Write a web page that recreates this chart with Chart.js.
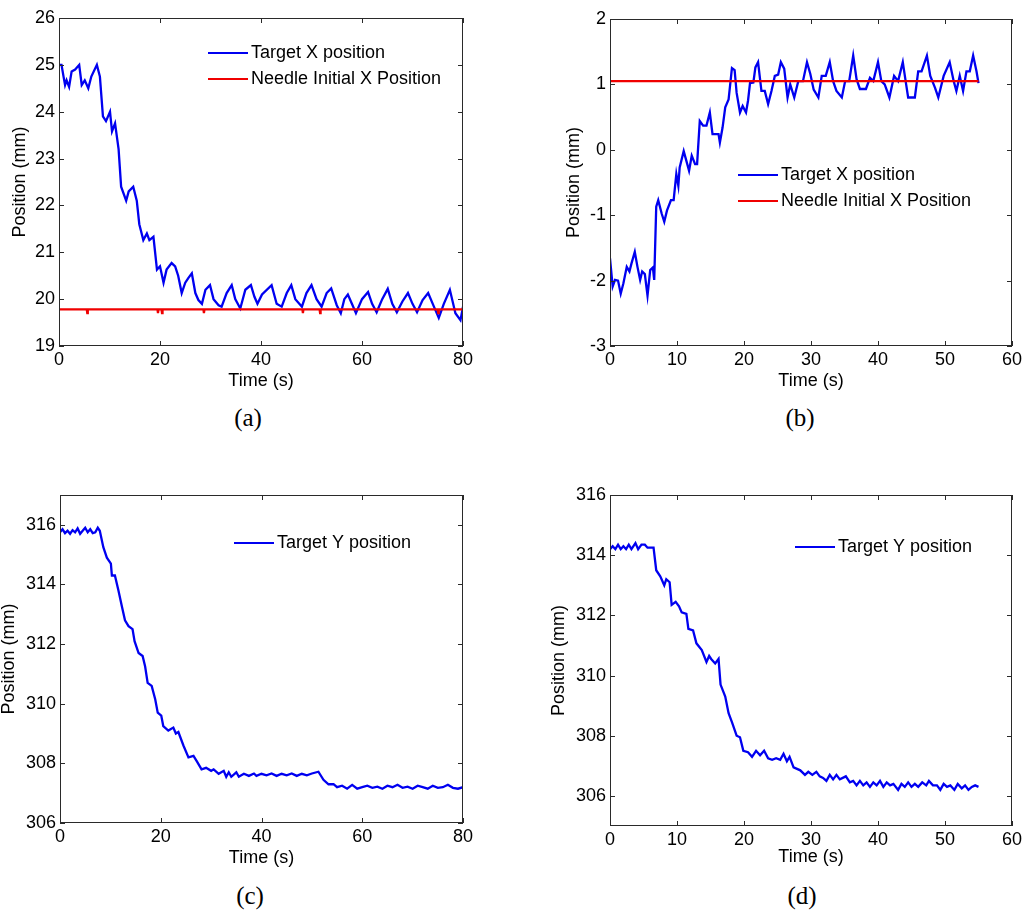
<!DOCTYPE html>
<html>
<head>
<meta charset="utf-8">
<script src="https://cdn.jsdelivr.net/npm/chart.js@4/dist/chart.umd.min.js"></script>
<style>
  body { margin: 0; background: #fff; }
  #wrap { position: relative; width: 1027px; height: 913px; overflow: hidden; }
  canvas { position: absolute; }
  .cap { position: absolute; width: 100px; text-align: center; font: 25px "Liberation Serif", serif; line-height: 28px; color: #000; }
</style>
</head>
<body>
<div id="wrap">
  <canvas id="chartA" width="480" height="395" style="left:0;top:0"></canvas>
  <canvas id="chartB" width="482" height="395" style="left:545px;top:0"></canvas>
  <canvas id="chartC" width="486" height="403" style="left:-6px;top:470px"></canvas>
  <canvas id="chartD" width="482" height="403" style="left:545px;top:470px"></canvas>
  <div class="cap" style="left:198px;top:404px">(a)</div>
  <div class="cap" style="left:750px;top:404px">(b)</div>
  <div class="cap" style="left:200px;top:882px">(c)</div>
  <div class="cap" style="left:752px;top:882px">(d)</div>
</div>
<script>
// (a) target X vs needle X, first trial
const timeA = [0, 0.5, 0.9, 1.2, 1.5, 2.0, 2.5, 3.2, 4.0, 4.5,
  5.1, 5.8, 6.4, 7.5, 8.1, 8.7, 9.3, 10.1, 10.5, 11.1,
  11.8, 12.3, 13.3, 13.8, 14.7, 15.4, 15.9, 16.7, 17.4, 17.9,
  18.7, 19.4, 20.0, 20.7, 21.3, 22.3, 23.0, 23.6, 24.3, 25.0,
  25.6, 26.3, 27.0, 27.6, 28.3, 29.0, 29.9, 30.6, 31.6, 32.2,
  33.2, 34.2, 34.9, 35.9, 36.9, 38.0, 38.7, 39.3, 40.2, 42.1,
  43.1, 44.1, 45.1, 46.0, 46.8, 48.1, 49.0, 50.0, 51.0, 52.0,
  53.0, 53.9, 55.0, 55.8, 56.5, 57.2, 58.0, 58.8, 60.0, 61.2,
  62.0, 62.9, 64.0, 65.1, 66.0, 66.9, 68.0, 69.1, 70.0, 70.9,
  72.0, 73.1, 74.2, 75.2, 76.2, 77.4, 78.5, 79.5, 80.0];
const targetXA = [25.0, 25.0, 24.75, 24.57, 24.67, 24.53, 24.86, 24.9, 25.0, 24.57,
  24.67, 24.5, 24.75, 25.0, 24.75, 23.9, 23.8, 24.0, 23.58, 23.75,
  23.2, 22.4, 22.1, 22.3, 22.4, 22.1, 21.6, 21.26, 21.4, 21.26,
  21.33, 20.63, 20.7, 20.35, 20.63, 20.77, 20.7, 20.5, 20.13, 20.35,
  20.45, 20.55, 20.13, 19.98, 19.9, 20.2, 20.3, 20.0, 19.87, 19.84,
  20.13, 20.3, 20.0, 19.8, 20.2, 20.3, 20.05, 19.9, 20.1, 20.3,
  19.9, 19.84, 20.13, 20.3, 20.0, 19.84, 20.13, 20.3, 20.0, 19.84,
  20.13, 20.23, 19.87, 19.7, 20.0, 20.1, 19.9, 19.7, 20.0, 20.15,
  19.9, 19.72, 20.0, 20.22, 19.9, 19.72, 19.95, 20.13, 19.9, 19.72,
  19.98, 20.13, 19.85, 19.6, 19.9, 20.2, 19.7, 19.55, 19.84];
const timeNeedleA = [0, 5.5, 5.6, 5.7, 19.5, 19.6, 19.7, 20.3, 20.4, 20.5, 28.6, 28.7, 28.8,
  48.2, 48.3, 48.4, 51.6, 51.7, 51.8, 75.0, 75.1, 75.2, 80];
const needleXA = [19.78, 19.78, 19.7, 19.78, 19.78, 19.7, 19.78, 19.78, 19.7, 19.78, 19.78, 19.7, 19.78,
  19.78, 19.7, 19.78, 19.78, 19.7, 19.78, 19.78, 19.7, 19.78, 19.78];

// (b) target X vs needle X, second trial
const timeB = [0, 0.1, 0.4, 0.75, 1.2, 1.6, 2.0, 2.5, 2.9, 3.2,
  3.7, 4.1, 4.5, 4.8, 5.2, 5.6, 6.0, 6.4, 6.6, 6.9,
  7.2, 7.7, 8.1, 8.5, 9.1, 9.5, 9.9, 10.2, 10.4, 11.0,
  11.4, 11.8, 12.2, 12.7, 13.0, 13.4, 13.9, 14.4, 14.9, 15.3,
  16.2, 16.4, 16.8, 17.2, 17.7, 18.2, 18.6, 18.9, 19.4, 19.8,
  20.3, 20.6, 20.9, 21.4, 21.7, 22.1, 22.6, 23.1, 23.6, 24.1,
  24.6, 25.1, 25.5, 26.0, 26.5, 26.9, 27.5, 28.1, 28.8, 29.4,
  29.9, 30.4, 31.1, 31.6, 32.2, 32.8, 33.3, 33.8, 34.6, 35.1,
  35.7, 36.3, 36.8, 37.3, 38.2, 38.8, 39.3, 40.0, 40.5, 41.0,
  41.7, 42.4, 43.0, 43.7, 44.2, 44.5, 45.5, 46.0, 46.5, 47.3,
  47.8, 48.5, 49.0, 49.8, 50.7, 51.3, 51.7, 52.2, 52.7, 53.2,
  53.7, 54.2, 54.7, 55.0];
const targetXB = [-1.66, -1.66, -2.09, -1.99, -2.0, -2.2, -2.04, -1.79, -1.86, -1.74,
  -1.56, -1.79, -1.99, -1.86, -1.9, -2.23, -1.84, -1.8, -1.99, -0.87,
  -0.77, -0.97, -1.1, -0.93, -0.77, -0.77, -0.37, -0.55, -0.27, -0.02,
  -0.17, -0.32, -0.09, -0.22, -0.22, 0.44, 0.37, 0.37, 0.57, 0.24,
  0.24, 0.11, 0.34, 0.65, 0.77, 1.25, 1.22, 0.87, 0.57, 0.67,
  0.57, 0.75, 1.02, 1.03, 1.26, 1.34, 0.9, 0.9, 0.7, 0.9,
  1.13, 1.15, 1.34, 1.24, 0.8, 1.0, 0.8, 1.05, 1.05, 1.34,
  1.16, 0.92, 0.8, 1.13, 1.13, 1.34, 1.05, 0.9, 0.8, 1.05,
  1.05, 1.44, 1.08, 0.93, 0.93, 1.1, 1.05, 1.34, 1.05, 1.0,
  0.8, 1.13, 1.05, 1.34, 1.0, 0.8, 0.8, 1.2, 1.2, 1.44,
  1.13, 0.95, 0.8, 1.13, 1.34, 1.05, 0.9, 1.13, 0.9, 1.2,
  1.2, 1.44, 1.2, 1.02];
const timeNeedleB = [0, 55];
const needleXB = [1.05, 1.05];

// (c) target Y, first trial
const timeC = [0, 0.5, 1, 1.5, 2, 2.5, 3, 3.5, 4, 4.5,
  5, 5.5, 6, 6.5, 7, 7.5, 7.9, 8.6, 9.3, 10.1,
  10.3, 10.9, 11.6, 12.3, 12.9, 13.6, 14.4, 14.8, 15.6, 16.4,
  16.9, 17.4, 18.2, 18.9, 19.4, 20.1, 20.5, 21.5, 22.5, 23,
  23.5, 24.5, 25.5, 26.5, 27.2, 28.1, 29, 30, 30.5, 31.5,
  32.5, 33, 33.5, 34, 35, 35.5, 36.5, 37.5, 38.5, 39,
  40, 41, 42, 43, 44, 45, 46, 47, 48, 49,
  50, 51.3, 52.3, 53.3, 54.3, 55, 56, 57, 58, 59,
  60, 61, 62, 63, 64, 65, 66, 67, 68, 69,
  70, 71, 72, 73, 74, 75, 76, 77, 78, 79,
  80];
const targetYC = [315.75, 315.85, 315.72, 315.8, 315.7, 315.82, 315.75, 315.88, 315.7, 315.8,
  315.9, 315.75, 315.85, 315.72, 315.75, 315.9, 315.8, 315.25, 314.9, 314.7,
  314.3, 314.3, 313.8, 313.25, 312.8, 312.6, 312.5, 312.1, 311.7, 311.6,
  311.25, 310.7, 310.6, 310.15, 309.7, 309.6, 309.25, 309.1, 309.2, 309.0,
  309.05, 308.6, 308.2, 308.25, 308.06, 307.8, 307.85, 307.75, 307.8, 307.65,
  307.75, 307.55, 307.7, 307.55, 307.7, 307.55, 307.65, 307.58, 307.66, 307.58,
  307.65, 307.6, 307.66, 307.58, 307.65, 307.6, 307.66, 307.58, 307.65, 307.6,
  307.66, 307.72, 307.45, 307.3, 307.3, 307.2, 307.25, 307.15, 307.28, 307.15,
  307.2, 307.25, 307.18, 307.22, 307.15, 307.25, 307.2, 307.28, 307.18, 307.22,
  307.15, 307.25, 307.2, 307.15, 307.25, 307.18, 307.2, 307.28, 307.18, 307.15,
  307.2];

// (d) target Y, second trial
const timeD = [0, 0.4, 0.8, 1.2, 1.6, 2.0, 2.4, 2.8, 3.2, 3.8,
  4.2, 4.7, 5.2, 5.6, 6.5, 6.9, 7.5, 8.1, 8.4, 8.9,
  9.2, 9.8, 10.3, 10.7, 11.4, 11.7, 12.4, 12.9, 13.7, 14.4,
  14.8, 15.1, 15.7, 16.2, 16.5, 17.2, 17.7, 18.2, 18.9, 19.4,
  19.9, 20.6, 21.2, 21.8, 22.4, 23.0, 23.6, 24.2, 24.8, 25.4,
  25.9, 26.4, 26.8, 27.4, 28.4, 29.1, 29.6, 30.2, 30.8, 31.3,
  31.8, 32.3, 32.8, 33.3, 33.8, 34.3, 35.2, 35.8, 36.3, 36.8,
  37.3, 37.8, 38.3, 38.8, 39.3, 39.8, 40.3, 40.8, 41.3, 41.8,
  42.3, 43.0, 43.5, 44.0, 44.5, 45.0, 45.5, 46.0, 46.6, 47.2,
  47.6, 48.2, 48.8, 49.3, 49.8, 50.3, 50.8, 51.4, 51.9, 52.5,
  53.0, 53.5, 54.0, 54.5, 55.0];
const targetYD = [314.2, 314.3, 314.2, 314.35, 314.2, 314.3, 314.2, 314.35, 314.2, 314.4,
  314.2, 314.35, 314.35, 314.25, 314.25, 313.5, 313.3, 313.0, 313.2, 313.1,
  312.35, 312.45, 312.3, 312.1, 312.05, 311.55, 311.5, 311.07, 310.85, 310.45,
  310.65, 310.55, 310.4, 310.55, 309.7, 309.3, 308.75, 308.45, 308.0, 307.95,
  307.5, 307.45, 307.3, 307.5, 307.35, 307.5, 307.25, 307.2, 307.25, 307.2,
  307.4, 307.15, 307.3, 306.95, 306.85, 306.7, 306.8, 306.7, 306.8, 306.65,
  306.6, 306.5, 306.7, 306.55, 306.7, 306.55, 306.65, 306.45, 306.5, 306.35,
  306.5, 306.35, 306.45, 306.3, 306.45, 306.35, 306.5, 306.3, 306.45, 306.35,
  306.4, 306.2, 306.4, 306.3, 306.45, 306.3, 306.4, 306.3, 306.45, 306.35,
  306.5, 306.35, 306.35, 306.2, 306.4, 306.3, 306.35, 306.2, 306.4, 306.25,
  306.35, 306.2, 306.3, 306.35, 306.3];

// tick labels
const xTicks80 = [0, 20, 40, 60, 80];
const xTicks60 = [0, 10, 20, 30, 40, 50, 60];
const yTicksA = [19, 20, 21, 22, 23, 24, 25, 26];
const yTicksB = [-3, -2, -1, 0, 1, 2];
const yTicksCD = [306, 308, 310, 312, 314, 316];

Chart.defaults.font.family = '"Liberation Sans", Arial, sans-serif';
Chart.defaults.font.size = 18;
Chart.defaults.color = '#000';

const toXY = (ts, vs) => ts.map((t, i) => ({ x: t, y: vs[i] }));

// matlab style box with inward ticks on all four sides
const boxAxes = {
  id: 'boxAxes',
  afterDatasetsDraw(chart) {
    const { ctx, chartArea: a, scales: { x, y } } = chart;
    ctx.save();
    ctx.strokeStyle = '#2a2a2a';
    ctx.lineWidth = 1;
    ctx.strokeRect(a.left + 0.5, a.top + 0.5, a.right - a.left - 1, a.bottom - a.top - 1);
    ctx.beginPath();
    x.ticks.forEach(t => {
      const px = Math.round(x.getPixelForValue(t.value)) + 0.5;
      ctx.moveTo(px, a.bottom); ctx.lineTo(px, a.bottom - 5);
      ctx.moveTo(px, a.top); ctx.lineTo(px, a.top + 5);
    });
    y.ticks.forEach(t => {
      const py = Math.round(y.getPixelForValue(t.value)) + 0.5;
      ctx.moveTo(a.left, py); ctx.lineTo(a.left + 5, py);
      ctx.moveTo(a.right, py); ctx.lineTo(a.right - 5, py);
    });
    ctx.stroke();
    ctx.restore();
  }
};

// legend drawn inside the axes, no frame
const innerLegend = {
  id: 'innerLegend',
  afterDraw(chart, args, opts) {
    const { ctx, chartArea: a } = chart;
    ctx.save();
    ctx.font = '18px "Liberation Sans", Arial, sans-serif';
    ctx.textBaseline = 'middle';
    chart.data.datasets.forEach((ds, i) => {
      const yy = a.top + opts.y + i * 26;
      const x0 = a.left + opts.x;
      ctx.strokeStyle = ds.borderColor;
      ctx.lineWidth = 2;
      ctx.beginPath();
      ctx.moveTo(x0, yy); ctx.lineTo(x0 + 40, yy);
      ctx.stroke();
      ctx.fillStyle = '#000';
      ctx.fillText(ds.label, x0 + 43, yy);
    });
    ctx.restore();
  }
};

function makeChart(id, datasets, g) {
  return new Chart(document.getElementById(id), {
    type: 'line',
    data: { datasets },
    plugins: [boxAxes, innerLegend],
    options: {
      responsive: false,
      animation: false,
      layout: { padding: { top: g.top, right: g.right, bottom: 0, left: 0 } },
      plugins: {
        legend: { display: false },
        tooltip: { enabled: false },
        innerLegend: { x: g.legX, y: g.legY }
      },
      elements: { point: { radius: 0 }, line: { tension: 0, borderWidth: 2.3 } },
      scales: {
        x: {
          type: 'linear', min: g.xMin, max: g.xMax,
          afterBuildTicks: s => { s.ticks = g.xTicks.map(v => ({ value: v })); },
          afterFit: s => { s.height = g.xH; },
          grid: { display: false, drawTicks: false },
          border: { display: false },
          ticks: { padding: 3, autoSkip: false, maxRotation: 0 },
          title: { display: true, text: 'Time (s)', padding: { top: 0, bottom: g.xTitlePad } }
        },
        y: {
          type: 'linear', min: g.yMin, max: g.yMax,
          afterBuildTicks: s => { s.ticks = g.yTicks.map(v => ({ value: v })); },
          afterFit: s => { s.width = g.yW; },
          grid: { display: false, drawTicks: false },
          border: { display: false },
          ticks: { padding: 4, autoSkip: false },
          title: { display: true, text: 'Position (mm)', padding: { top: g.yTitlePad, bottom: 0 } }
        }
      }
    }
  });
}

const blue = '#0000f0';
const red = '#f00000';

makeChart('chartA', [
  { label: 'Target X position', data: toXY(timeA, targetXA), borderColor: blue, order: 2 },
  { label: 'Needle Initial X Position', data: toXY(timeNeedleA, needleXA), borderColor: red, order: 1 }
], { top: 18, right: 17, xH: 49, yW: 59, xMin: 0, xMax: 80, yMin: 19, yMax: 26,
     xTicks: xTicks80, yTicks: yTicksA, xTitlePad: 3, yTitlePad: 9, legX: 149, legY: 35 });

makeChart('chartB', [
  { label: 'Target X position', data: toXY(timeB, targetXB), borderColor: blue, order: 2 },
  { label: 'Needle Initial X Position', data: toXY(timeNeedleB, needleXB), borderColor: red, order: 1 }
], { top: 19, right: 15, xH: 49, yW: 65, xMin: 0, xMax: 60, yMin: -3, yMax: 2,
     xTicks: xTicks60, yTicks: yTicksB, xTitlePad: 3, yTitlePad: 18, legX: 128, legY: 156 });

makeChart('chartC', [
  { label: 'Target Y position', data: toXY(timeC, targetYC), borderColor: blue }
], { top: 25, right: 17, xH: 50, yW: 66, xMin: 0, xMax: 80, yMin: 306, yMax: 317,
     xTicks: xTicks80, yTicks: yTicksCD, xTitlePad: 4, yTitlePad: 4, legX: 174, legY: 48 });

makeChart('chartD', [
  { label: 'Target Y position', data: toXY(timeD, targetYD), borderColor: blue }
], { top: 25, right: 15, xH: 47, yW: 65, xMin: 0, xMax: 60, yMin: 305, yMax: 316,
     xTicks: xTicks60, yTicks: yTicksCD, xTitlePad: 5, yTitlePad: 3, legX: 185, legY: 52 });
</script>
</body>
</html>
